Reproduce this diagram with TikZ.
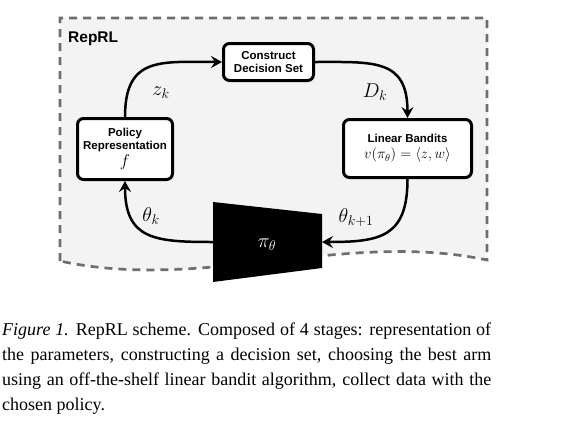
\RequirePackage{fix-cm}
\documentclass[tikz,border=0pt]{standalone}
\usepackage[no-math]{fontspec}
\setmainfont{Liberation Serif}
\setsansfont{Liberation Sans}
\usetikzlibrary{arrows.meta}
\definecolor{bgfill}{HTML}{F3F3F3}
\definecolor{dashgray}{HTML}{6E6E6E}
\begin{document}
\begin{tikzpicture}[x=1pt,y=-1pt,
  box/.style={draw=black,line width=3pt,rounded corners=6pt,fill=white,align=center,inner sep=0pt,
    font=\fontsize{11.5}{13}\selectfont\sffamily\bfseries},
  arr/.style={line width=2.5pt,-{Stealth[length=11pt,width=12pt,inset=4pt]}},
  lbl/.style={font=\fontsize{20}{24}\selectfont,inner sep=0pt},
  capline/.style={anchor=base west,inner sep=0pt,font=\fontsize{18}{25}\selectfont}]
\useasboundingbox (0,0) rectangle (581,429);
% background region
\path[fill=bgfill] (60,18) -- (487,18) -- (487,260) .. controls (345,230) and (202,292) .. (60,261) -- cycle;
\draw[dashgray,line width=2.7pt,dash pattern=on 8pt off 6pt] (60,261) -- (60,18) -- (487,18) -- (487,260) .. controls (345,230) and (202,292) .. (60,261);
\node[anchor=base west,inner sep=0pt,font=\fontsize{15.5}{18}\selectfont\sffamily\bfseries] (title) at (68,42) {RepRL};
% boxes
\node[box,minimum width=90,minimum height=37] (con) at (268.5,62) {Construct\\Decision Set};
\node[box,minimum width=95,minimum height=61] (pol) at (125,149) {Policy\\Representation\\[1pt]{\fontsize{17}{19}\selectfont$f$}};
\node[box,minimum width=128,minimum height=58] (lb) at (407.5,148.5) {Linear Bandits\\[3pt]{\fontsize{14.5}{16}\selectfont\mdseries$v(\pi_\theta)=\langle z,w\rangle$}};
% policy network
\fill[black] (213,202) -- (322,214) -- (322,268) -- (213,282) -- cycle;
\node[text=white,lbl] (pi) at (267,245) {$\pi_\theta$};
\coordinate (trW) at (213,242);
\coordinate (trE) at (322,242);
% connectors
\draw[arr] (pol.north) to[out=90,in=180,looseness=1.4] (con.west);
\draw[arr] (con.east) to[out=0,in=90,looseness=1.4] (lb.north);
\draw[arr] (lb.south) to[out=-90,in=0,looseness=1.4] (trE);
\draw[arr] (trW) to[out=180,in=-90,looseness=1.4] (pol.south);
% labels
\node[lbl] (zk) at (161,93) {$z_k$};
\node[lbl] (dk) at (375,92) {$D_k$};
\node[lbl] (thk) at (151,216) {$\theta_k$};
\node[lbl] (thk1) at (356,218) {$\theta_{k+1}$};
% caption
\node[capline] (c1) at (2,335) {\makebox[489pt][s]{\textit{Figure 1.} RepRL scheme. Composed of 4 stages: representation of}};
\node[capline] (c2) at (2,360) {\makebox[489pt][s]{the parameters, constructing a decision set, choosing the best arm}};
\node[capline] (c3) at (2,385) {\makebox[489pt][s]{using an off-the-shelf linear bandit algorithm, collect data with the}};
\node[capline] (c4) at (2,410) {chosen policy.};
\end{tikzpicture}
\end{document}
